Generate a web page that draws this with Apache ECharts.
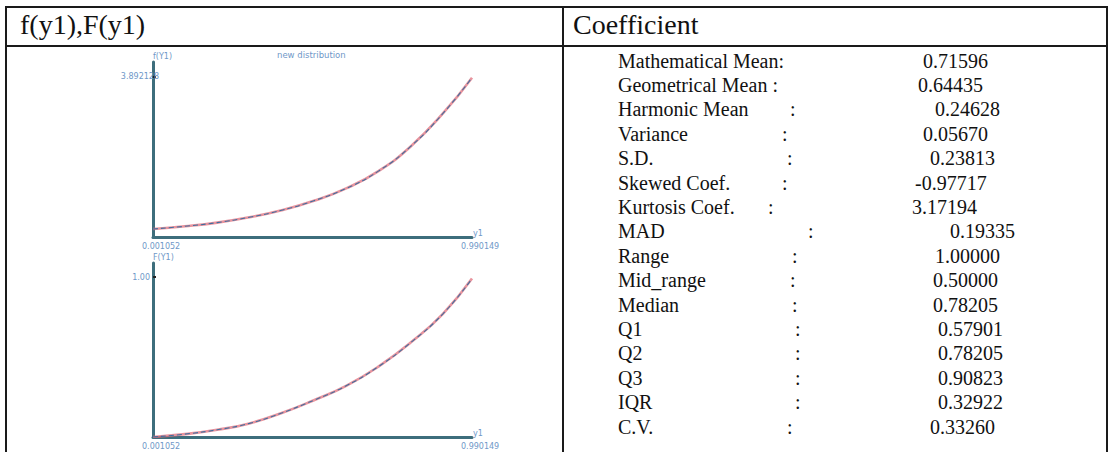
<!DOCTYPE html>
<html><head><meta charset="utf-8">
<script src="https://cdn.jsdelivr.net/npm/echarts@6/dist/echarts.min.js"></script>
<style>html,body{margin:0;padding:0;background:#fff}#c{width:1114px;height:452px}</style>
</head><body><div id="c"></div>
<script>
// ---- data ----
const y1Values = [0.001052, 0.1, 0.2, 0.3, 0.4, 0.5, 0.6, 0.7, 0.8, 0.9, 0.990149];
const pdfValues = [0.195, 0.26, 0.35, 0.48, 0.65, 0.88, 1.18, 1.6, 2.2, 3.0, 3.87];
const cdfValues = [0, 0.018, 0.045, 0.085, 0.15, 0.23, 0.32, 0.44, 0.59, 0.77, 0.99];
const xTickValues = [0.001052, 0.990149];
const xTickLabels = ['0.001052', '0.990149'];
const pdfTickValues = [3.892128];
const pdfTickLabels = ['3.892128'];
const cdfTickValues = [1.0];
const cdfTickLabels = ['1.00'];
const headers = ['f(y1),F(y1)', 'Coefficient'];
const chartTitle = 'new distribution';
const coefLabels = ['Mathematical Mean:', 'Geometrical Mean :', 'Harmonic Mean', 'Variance', 'S.D.',
  'Skewed Coef.', 'Kurtosis Coef.', 'MAD', 'Range', 'Mid_range', 'Median', 'Q1', 'Q2', 'Q3', 'IQR', 'C.V.'];
const coefColons = ['', '', ':', ':', ':', ':', ':', ':', ':', ':', ':', ':', ':', ':', ':', ':'];
const coefValues = ['0.71596', '0.64435', '0.24628', '0.05670', '0.23813', '-0.97717', '3.17194', '0.19335',
  '1.00000', '0.50000', '0.78205', '0.57901', '0.78205', '0.90823', '0.32922', '0.33260'];

// ---- layout (positions only) ----
const colonX = [0, 0, 790, 782, 787, 782, 768, 808, 792, 790, 792, 795, 795, 795, 795, 787];
const valueX = [923, 918, 935, 923, 930, 915, 912, 950, 935, 933, 933, 938, 938, 938, 938, 930];
const rowY0 = 60.5, rowStep = 24.4, labelX = 618;
const serif = '"Liberation Serif", "Times New Roman", serif';
const tinyColor = '#6f98c8';
const axisColor = '#3d6e7c';

const chart = echarts.init(document.getElementById('c'), null, {renderer: 'svg'});

function xAxisDef(gi) {
  return {
    type: 'value', gridIndex: gi, min: xTickValues[0], max: xTickValues[1],
    name: 'y1', nameLocation: 'end', nameGap: 1,
    nameTextStyle: {color: tinyColor, fontSize: 8, verticalAlign: 'bottom', fontFamily: 'DejaVu Sans'},
    axisLine: {show: true, lineStyle: {color: axisColor, width: 3}},
    axisTick: {show: false}, splitLine: {show: false},
    axisLabel: {
      customValues: xTickValues, showMinLabel: true, showMaxLabel: true,
      formatter: (v) => xTickLabels[xTickValues.indexOf(v)] || '',
      color: tinyColor, fontSize: 8, align: 'left', padding: [0, 0, 0, -11], margin: 5,
      fontFamily: 'DejaVu Sans'
    }
  };
}
function yAxisDef(gi, max, name, vals, labels, margin) {
  return {
    type: 'value', gridIndex: gi, min: 0, max: max,
    name: name, nameLocation: 'end', nameGap: 2,
    nameTextStyle: {color: tinyColor, fontSize: 8, align: 'left', fontFamily: 'DejaVu Sans'},
    axisLine: {show: true, lineStyle: {color: axisColor, width: 3}},
    axisTick: {show: true, customValues: vals, length: 3, inside: true, lineStyle: {color: '#222', width: 2}},
    splitLine: {show: false},
    axisLabel: {
      customValues: vals, formatter: (v) => labels[vals.indexOf(v)] || '',
      color: tinyColor, fontSize: 8, margin: margin, fontFamily: 'DejaVu Sans'
    }
  };
}

function curvePair(gi, values) {
  const d = y1Values.map((x, i) => [x, values[i]]);
  return [
    {type: 'line', xAxisIndex: gi, yAxisIndex: gi, data: d, smooth: 0.5, symbol: 'none',
     lineStyle: {color: '#e0707e', width: 2.6, opacity: 0.75}, silent: true},
    {type: 'line', xAxisIndex: gi, yAxisIndex: gi, data: d, smooth: 0.5, symbol: 'none',
     lineStyle: {color: '#3f6f9f', width: 1.1, type: [5, 3]}, silent: true}
  ];
}

const graphics = [];
// table lines
const lineStyle = {stroke: '#1a1a1a', lineWidth: 2};
graphics.push({type: 'line', shape: {x1: 5, y1: 7, x2: 1108, y2: 7}, style: lineStyle});
graphics.push({type: 'line', shape: {x1: 5, y1: 46, x2: 1108, y2: 46}, style: lineStyle});
graphics.push({type: 'line', shape: {x1: 6, y1: 6, x2: 6, y2: 452}, style: lineStyle});
graphics.push({type: 'line', shape: {x1: 563, y1: 6, x2: 563, y2: 452}, style: lineStyle});
graphics.push({type: 'line', shape: {x1: 1107, y1: 6, x2: 1107, y2: 452}, style: lineStyle});
// headers
graphics.push({type: 'text', x: 20, y: 24, style: {text: headers[0], font: '28px ' + serif, fill: '#111', verticalAlign: 'middle'}});
graphics.push({type: 'text', x: 573, y: 24, style: {text: headers[1], font: '28px ' + serif, fill: '#111', verticalAlign: 'middle'}});
// rows
coefLabels.forEach((lab, i) => {
  const y = rowY0 + i * rowStep;
  graphics.push({type: 'text', x: labelX, y: y, style: {text: lab, font: '20px ' + serif, fill: '#111', verticalAlign: 'middle'}});
  if (coefColons[i]) graphics.push({type: 'text', x: colonX[i], y: y, style: {text: coefColons[i], font: '20px ' + serif, fill: '#111', verticalAlign: 'middle'}});
  graphics.push({type: 'text', x: valueX[i], y: y, style: {text: coefValues[i], font: '20px ' + serif, fill: '#111', verticalAlign: 'middle'}});
});
// small chart title
graphics.push({type: 'text', x: 277, y: 55, style: {text: chartTitle, font: '8.5px "DejaVu Sans"', fill: tinyColor, verticalAlign: 'middle'}});

chart.setOption({
  animation: false,
  backgroundColor: '#fff',
  grid: [
    {left: 153, top: 62, width: 319, height: 175},
    {left: 153, top: 263, width: 319, height: 174}
  ],
  xAxis: [xAxisDef(0), xAxisDef(1)],
  yAxis: [
    yAxisDef(0, 4.25, 'f(Y1)', pdfTickValues, pdfTickLabels, -6),
    yAxisDef(1, 1.0875, 'F(Y1)', cdfTickValues, cdfTickLabels, 3)
  ],
  series: [...curvePair(0, pdfValues), ...curvePair(1, cdfValues)],
  graphic: graphics
});
</script></body></html>
